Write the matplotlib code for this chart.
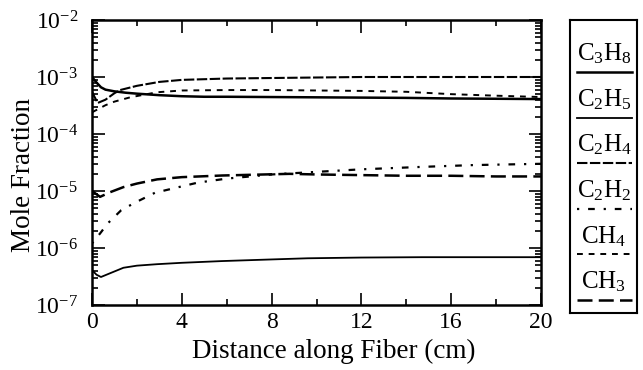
import numpy as np
import matplotlib
matplotlib.use("Agg")
import matplotlib.pyplot as plt
from matplotlib.ticker import FixedLocator, LogLocator, NullFormatter, FixedFormatter
from matplotlib.lines import Line2D

plt.rcParams["font.family"] = ["Liberation Serif", "DejaVu Serif"]
plt.rcParams["mathtext.fontset"] = "custom"
plt.rcParams["mathtext.rm"] = "Liberation Serif"
plt.rcParams["mathtext.it"] = "Liberation Serif:italic"

# distance along fiber (cm) and mole fractions
x_c3h8 = [0, 0.2, 0.4, 0.6, 1.0, 1.5, 2, 3, 4, 5, 6, 8, 10, 12, 14, 16, 18, 20]
c3h8 = [1.0e-3, 8.0e-4, 6.6e-4, 6.0e-4, 5.6e-4, 5.3e-4, 5.1e-4, 4.8e-4, 4.6e-4, 4.5e-4,
        4.5e-4, 4.45e-4, 4.4e-4, 4.35e-4, 4.3e-4, 4.2e-4, 4.15e-4, 4.1e-4]

x_c2h4 = [0, 0.25, 0.6, 1.0, 1.25, 2, 3, 4, 6, 8, 10, 12, 14, 16, 18, 20]
c2h4 = [5.5e-4, 3.5e-4, 4.0e-4, 5.2e-4, 5.9e-4, 7.0e-4, 8.2e-4, 8.9e-4, 9.4e-4, 9.6e-4,
        9.8e-4, 1.0e-3, 1.0e-3, 1.0e-3, 1.0e-3, 1.0e-3]

x_ch4 = [0, 0.6, 1.0, 1.7, 2.9, 4, 6, 8, 10, 12, 14, 16, 18, 20]
ch4 = [2.4e-4, 3.2e-4, 3.7e-4, 4.4e-4, 5.4e-4, 5.8e-4, 5.9e-4, 5.9e-4, 5.8e-4, 5.7e-4,
       5.5e-4, 5.0e-4, 4.7e-4, 4.45e-4]

x_ch3 = [0, 0.36, 0.8, 1.4, 2.0, 2.9, 4, 5.8, 8.8, 10, 12, 14, 16, 18, 20]
ch3 = [1.0e-5, 7.9e-6, 9.5e-6, 1.17e-5, 1.35e-5, 1.6e-5, 1.75e-5, 1.87e-5, 2.0e-5,
       1.95e-5, 1.9e-5, 1.85e-5, 1.85e-5, 1.8e-5, 1.8e-5]

x_c2h2 = [0, 0.36, 0.7, 1.3, 1.9, 2.8, 3.7, 4.7, 6, 8, 10.3, 12, 14.7, 17, 20]
c2h2 = [1.2e-6, 1.8e-6, 2.7e-6, 4.6e-6, 6.2e-6, 9.3e-6, 1.13e-5, 1.4e-5, 1.65e-5,
        1.95e-5, 2.2e-5, 2.4e-5, 2.65e-5, 2.85e-5, 3.0e-5]

x_c2h5 = [0, 0.2, 0.4, 0.8, 1.4, 2.0, 2.9, 4, 5.8, 8, 9.6, 12, 14.7, 17, 20]
c2h5 = [4.1e-7, 3.4e-7, 3.1e-7, 3.6e-7, 4.5e-7, 4.9e-7, 5.2e-7, 5.5e-7, 5.9e-7,
        6.3e-7, 6.6e-7, 6.8e-7, 6.9e-7, 6.9e-7, 6.9e-7]

legend_names = ["$\\mathregular{C_3H_8}$", "$\\mathregular{C_2H_5}$", "$\\mathregular{C_2H_4}$",
                "$\\mathregular{C_2H_2}$", "$\\mathregular{CH_4}$", "$\\mathregular{CH_3}$"]
ytick_vals = [1e-7, 1e-6, 1e-5, 1e-4, 1e-3, 1e-2]
ytick_labels = ["$10^{-7}$", "$10^{-6}$", "$10^{-5}$", "$10^{-4}$", "$10^{-3}$", "$10^{-2}$"]
xtick_vals = [0, 4, 8, 12, 16, 20]

styles = [
    dict(color="k", lw=1.8, ls="-"),
    dict(color="k", lw=1.3, ls="-"),
    dict(color="k", lw=1.5, ls=(0, (5, 1.2))),
    dict(color="k", lw=1.6, ls=(0, (1, 4, 3, 4))),
    dict(color="k", lw=1.4, ls=(0, (3, 3))),
    dict(color="k", lw=1.8, ls=(0, (6, 2.5))),
]

W, H = 643, 370
fig = plt.figure(figsize=(W / 100, H / 100), dpi=100)
ax = fig.add_axes([92 / W, 1 - 305 / H, 449 / W, 285 / H])

series = [(x_c3h8, c3h8), (x_c2h5, c2h5), (x_c2h4, c2h4),
          (x_c2h2, c2h2), (x_ch4, ch4), (x_ch3, ch3)]
for (xs, ys), st in zip(series, styles):
    ax.plot(xs, ys, **st)

ax.set_yscale("log")
ax.set_xlim(0, 20)
ax.set_ylim(1e-7, 1e-2)
ax.yaxis.set_major_locator(FixedLocator(ytick_vals))
ax.yaxis.set_major_formatter(FixedFormatter(ytick_labels))
ax.yaxis.set_minor_locator(LogLocator(base=10, subs=np.arange(2, 10), numticks=20))
ax.yaxis.set_minor_formatter(NullFormatter())
ax.xaxis.set_major_locator(FixedLocator(xtick_vals))
ax.set_xticklabels([str(v) for v in xtick_vals])
ax.xaxis.set_minor_locator(FixedLocator([2, 6, 10, 14, 18]))

ax.tick_params(which="both", direction="in", top=True, right=True, labelsize=17, width=1.2)
ax.tick_params(which="major", length=9)
ax.tick_params(which="minor", length=4)
ax.tick_params(axis="y", pad=10)
ax.tick_params(axis="x", pad=5)
for sp in ax.spines.values():
    sp.set_linewidth(1.8)

fig.text(334 / W, 1 - 351 / H, "Distance along Fiber (cm)", fontsize=19.5,
         ha="center", va="center")
fig.text(24 / W, 1 - 175 / H, "Mole Fraction", fontsize=19.5, rotation=90,
         ha="center", va="center")

# legend box drawn by hand: label with its line sample underneath
lax = fig.add_axes([570 / W, 1 - 313 / H, 67 / W, 293 / H])
lax.set_xlim(570, 637)
lax.set_ylim(313, 20)
lax.set_xticks([])
lax.set_yticks([])
for sp in lax.spines.values():
    sp.set_linewidth(1.5)
for i, (name, st) in enumerate(zip(legend_names, styles)):
    line_y = 72 + 45.6 * i
    lax.text(604, line_y - 18, name, fontsize=18, ha="center", va="center")
    lax.add_line(Line2D([577, 632], [line_y, line_y], **st))

fig.savefig("out.png", dpi=100)
